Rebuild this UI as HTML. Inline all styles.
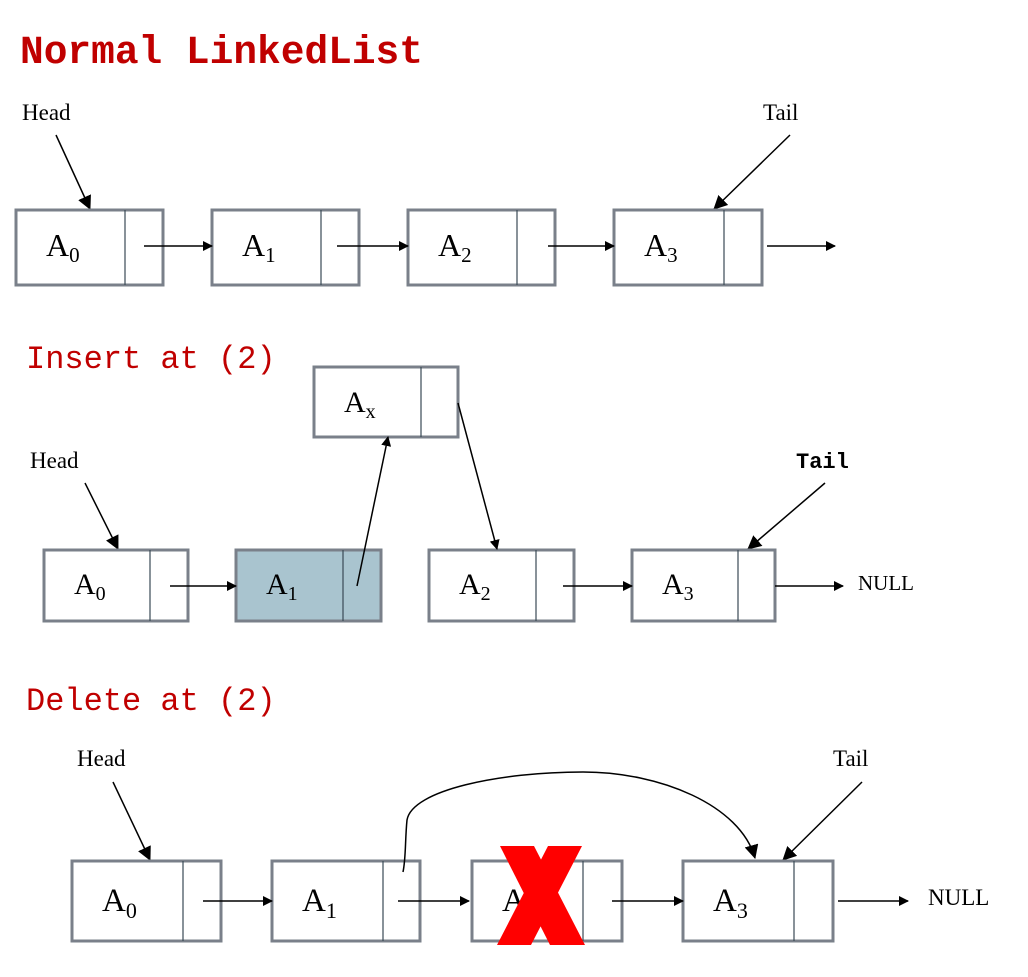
<!DOCTYPE html>
<html><head><meta charset="utf-8"><style>
html,body{margin:0;padding:0;background:#fff;}
svg{display:block;}
.t{font-family:"Liberation Mono",monospace;fill:#c00000;}
.l{font-family:"Liberation Serif",serif;fill:#000;}
.box{fill:#fff;stroke:#7a808a;stroke-width:3;}
.div{stroke:#3a4a55;stroke-width:1.2;}
.ar{stroke:#000;stroke-width:1.5;fill:none;}
</style></head><body>
<svg width="1028" height="977" viewBox="0 0 1028 977">
<defs><marker id="ah" markerWidth="10" markerHeight="10" refX="9" refY="5" orient="auto" markerUnits="userSpaceOnUse"><path d="M0,0 L10,5 L0,10 z" fill="#000"/></marker>
<marker id="ah2" markerWidth="14" markerHeight="14" refX="13" refY="7" orient="auto" markerUnits="userSpaceOnUse"><path d="M0,0 L14,7 L0,14 z" fill="#000"/></marker></defs>

<text class="t" x="20" y="63" font-size="39.5" font-weight="bold">Normal LinkedList</text>
<text class="l" x="22" y="120" font-size="23">Head</text>
<text class="l" x="763" y="120" font-size="23">Tail</text>
<line class="ar" x1="56" y1="135" x2="90" y2="209" marker-end="url(#ah2)"/>
<line class="ar" x1="790" y1="135" x2="714" y2="209" marker-end="url(#ah2)"/>
<g>
<rect class="box" x="16" y="210" width="147" height="75"/><line class="div" x1="125" y1="210" x2="125" y2="285"/>
<rect class="box" x="212" y="210" width="147" height="75"/><line class="div" x1="321" y1="210" x2="321" y2="285"/>
<rect class="box" x="408" y="210" width="147" height="75"/><line class="div" x1="517" y1="210" x2="517" y2="285"/>
<rect class="box" x="614" y="210" width="148" height="75"/><line class="div" x1="724" y1="210" x2="724" y2="285"/>
<text class="l" x="46" y="256" font-size="32">A<tspan font-size="21" dy="6">0</tspan></text>
<text class="l" x="242" y="256" font-size="32">A<tspan font-size="21" dy="6">1</tspan></text>
<text class="l" x="438" y="256" font-size="32">A<tspan font-size="21" dy="6">2</tspan></text>
<text class="l" x="644" y="256" font-size="32">A<tspan font-size="21" dy="6">3</tspan></text>
</g>
<line class="ar" x1="144" y1="246" x2="212" y2="246" marker-end="url(#ah)"/>
<line class="ar" x1="337" y1="246" x2="408" y2="246" marker-end="url(#ah)"/>
<line class="ar" x1="548" y1="246" x2="614" y2="246" marker-end="url(#ah)"/>
<line class="ar" x1="767" y1="246" x2="835" y2="246" marker-end="url(#ah)"/>

<text class="t" x="26" y="368" font-size="32">Insert at (2)</text>
<text class="l" x="30" y="468" font-size="23">Head</text>
<text x="796" y="468" font-size="22" font-weight="bold" font-family="Liberation Mono,monospace">Tail</text>
<line class="ar" x1="85" y1="483" x2="118" y2="549" marker-end="url(#ah2)"/>
<line class="ar" x1="825" y1="483" x2="748" y2="549" marker-end="url(#ah2)"/>
<g>
<rect class="box" x="314" y="367" width="144" height="70"/><line class="div" x1="421" y1="367" x2="421" y2="437"/>
<rect class="box" x="44" y="550" width="144" height="71"/><line class="div" x1="150" y1="550" x2="150" y2="621"/>
<rect class="box" x="236" y="550" width="145" height="71" style="fill:#a9c4cf"/><line class="div" x1="343" y1="550" x2="343" y2="621"/>
<rect class="box" x="429" y="550" width="145" height="71"/><line class="div" x1="536" y1="550" x2="536" y2="621"/>
<rect class="box" x="632" y="550" width="143" height="71"/><line class="div" x1="738" y1="550" x2="738" y2="621"/>
<text class="l" x="344" y="412" font-size="30">A<tspan font-size="20" dy="6">x</tspan></text>
<text class="l" x="74" y="594" font-size="30">A<tspan font-size="20" dy="6">0</tspan></text>
<text class="l" x="266" y="594" font-size="30">A<tspan font-size="20" dy="6">1</tspan></text>
<text class="l" x="459" y="594" font-size="30">A<tspan font-size="20" dy="6">2</tspan></text>
<text class="l" x="662" y="594" font-size="30">A<tspan font-size="20" dy="6">3</tspan></text>
</g>
<line class="ar" x1="170" y1="586" x2="236" y2="586" marker-end="url(#ah)"/>
<line class="ar" x1="563" y1="586" x2="632" y2="586" marker-end="url(#ah)"/>
<line class="ar" x1="775" y1="586" x2="843" y2="586" marker-end="url(#ah)"/>
<line class="ar" x1="357" y1="586" x2="388" y2="437" marker-end="url(#ah)"/>
<line class="ar" x1="458" y1="403" x2="497" y2="549" marker-end="url(#ah)"/>
<text class="l" x="858" y="590" font-size="21">NULL</text>

<text class="t" x="26" y="710" font-size="32">Delete at (2)</text>
<text class="l" x="77" y="766" font-size="23">Head</text>
<text class="l" x="833" y="766" font-size="23">Tail</text>
<line class="ar" x1="113" y1="782" x2="150" y2="860" marker-end="url(#ah2)"/>
<line class="ar" x1="862" y1="782" x2="783" y2="860" marker-end="url(#ah2)"/>
<g>
<rect class="box" x="72" y="861" width="149" height="80"/><line class="div" x1="183" y1="861" x2="183" y2="941"/>
<rect class="box" x="272" y="861" width="148" height="80"/><line class="div" x1="383" y1="861" x2="383" y2="941"/>
<rect class="box" x="472" y="861" width="150" height="80"/><line class="div" x1="583" y1="861" x2="583" y2="941"/>
<rect class="box" x="683" y="861" width="150" height="80"/><line class="div" x1="794" y1="861" x2="794" y2="941"/>
<text class="l" x="102" y="911" font-size="33">A<tspan font-size="22" dy="7">0</tspan></text>
<text class="l" x="302" y="911" font-size="33">A<tspan font-size="22" dy="7">1</tspan></text>
<text class="l" x="502" y="911" font-size="33">A<tspan font-size="22" dy="7">2</tspan></text>
<text class="l" x="713" y="911" font-size="33">A<tspan font-size="22" dy="7">3</tspan></text>
</g>
<line class="ar" x1="203" y1="901" x2="272" y2="901" marker-end="url(#ah)"/>
<line class="ar" x1="398" y1="901" x2="469" y2="901" marker-end="url(#ah)"/>
<line class="ar" x1="612" y1="901" x2="683" y2="901" marker-end="url(#ah)"/>
<line class="ar" x1="838" y1="901" x2="908" y2="901" marker-end="url(#ah)"/>
<path class="ar" d="M403,872 C406,858 405,840 407,820 C412,790 500,772 583,772 C660,772 740,805 755,858" marker-end="url(#ah2)"/>
<text class="l" x="928" y="905" font-size="23">NULL</text>
<g>
<polygon points="500,846 534,846 585,945 550,945" fill="#ff0000"/>
<polygon points="548,846 582,846 531,945 497,945" fill="#ff0000"/>
</g>
</svg>
</body></html>
